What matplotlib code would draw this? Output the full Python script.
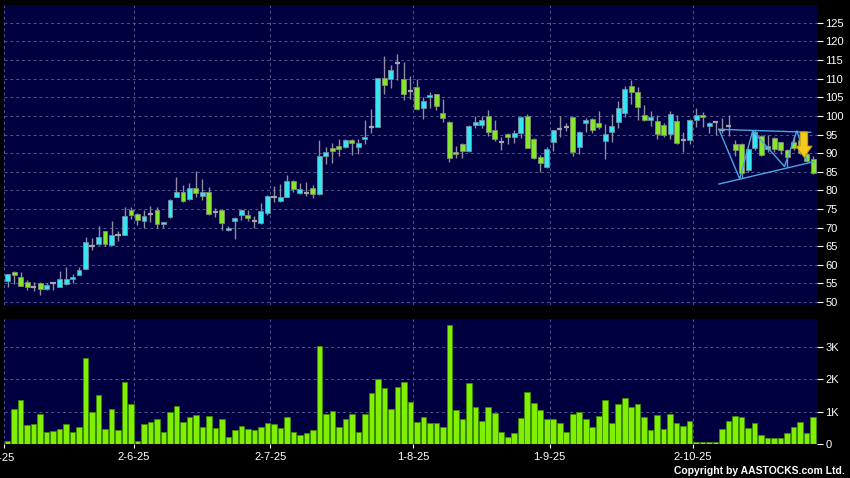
import numpy as np
import matplotlib
matplotlib.use('Agg')
import matplotlib.pyplot as plt
from matplotlib.patches import FancyArrow

plt.rcParams['font.family'] = ['Liberation Sans', 'DejaVu Sans']

# daily candles, 2-5-25 .. end Oct 25 (125 sessions)
opens = [55.7, 58.2, 56.6, 55.3, 54.0, 55.2, 53.5, 55.2, 54.1, 54.9,
         56.1, 57.3, 58.9, 65.0, 65.6, 69.0, 65.4, 68.1, 68.1, 74.6,
         73.6, 71.9, 73.7, 74.7, 70.9, 72.8, 78.3, 79.5, 77.6, 80.5,
         78.6, 79.5, 74.1, 74.6, 69.3, 71.9, 73.5, 73.3, 71.8, 71.1,
         73.8, 78.3, 77.1, 78.3, 82.6, 79.4, 79.2, 80.6, 78.9, 89.1,
         91.3, 91.9, 91.7, 93.5, 91.7, 93.7, 97.0, 97.1, 110.1, 110.0,
         114.3, 110.0, 106.8, 107.7, 102.1, 105.0, 105.8, 100.8, 98.5, 90.2,
         92.4, 90.7, 97.5, 97.5, 100.1, 96.1, 93.1, 95.1, 94.4, 95.3,
         100.1, 93.7, 88.9, 86.2, 92.9, 96.4, 97.0, 99.6, 91.7, 98.0,
         99.2, 98.0, 93.2, 95.6, 98.5, 100.9, 108.1, 106.3, 100.2, 98.9,
         98.7, 97.5, 95.2, 98.7, 93.5, 93.5, 98.9, 100.3, 97.3, 98.3,
         96.3, 97.3, 92.5, 92.5, 85.4, 91.3, 94.6, 91.1, 94.1, 92.9,
         90.8, 92.9, 93.5, 89.8, 88.5]
highs = [57.6, 58.4, 58.0, 55.9, 55.5, 55.4, 55.0, 55.5, 58.3, 59.3,
         57.5, 59.3, 67.6, 67.1, 70.4, 69.2, 71.8, 69.1, 75.4, 75.4,
         73.8, 74.6, 75.8, 75.6, 71.6, 77.7, 83.5, 81.5, 82.1, 85.2,
         83.0, 81.0, 75.2, 74.8, 70.3, 72.9, 75.1, 74.8, 73.0, 76.5,
         78.8, 81.2, 81.6, 84.1, 82.8, 82.1, 82.3, 81.5, 93.4, 91.7,
         92.7, 93.8, 93.7, 93.7, 93.7, 98.9, 101.8, 110.3, 116.1, 113.8,
         116.7, 114.6, 110.8, 110.0, 105.0, 106.4, 106.0, 104.6, 98.7, 91.8,
         92.6, 97.6, 100.1, 100.1, 101.6, 98.9, 94.4, 95.4, 96.2, 100.0,
         100.4, 94.1, 89.5, 91.7, 96.3, 100.0, 98.2, 99.8, 96.0, 99.4,
         99.4, 101.4, 97.8, 100.4, 103.9, 108.1, 109.7, 107.9, 102.9, 101.2,
         100.3, 98.0, 101.2, 100.3, 95.8, 99.1, 102.1, 101.0, 98.5, 98.5,
         99.5, 100.3, 93.5, 92.7, 91.3, 96.3, 94.8, 95.0, 94.3, 93.1,
         91.0, 94.5, 95.8, 90.3, 89.3]
lows = [54.1, 54.8, 54.2, 53.2, 53.0, 51.9, 53.3, 53.2, 54.0, 54.7,
        55.0, 57.2, 58.8, 63.9, 65.4, 65.1, 65.2, 66.5, 68.0, 72.2,
        70.7, 69.8, 71.6, 69.8, 69.8, 72.6, 78.1, 76.9, 77.4, 78.3,
        77.4, 73.4, 72.8, 69.4, 69.0, 67.0, 72.0, 71.8, 70.0, 70.9,
        73.4, 77.0, 76.9, 78.1, 79.6, 79.0, 78.5, 78.0, 78.7, 87.0,
        87.3, 89.3, 91.5, 89.6, 89.8, 92.5, 95.5, 96.9, 105.8, 107.4,
        109.7, 104.2, 104.6, 101.6, 99.1, 102.1, 101.6, 98.5, 87.5, 88.6,
        88.6, 90.4, 96.7, 96.8, 94.6, 93.3, 90.9, 92.5, 92.8, 94.0,
        91.3, 88.3, 85.0, 86.0, 90.7, 94.4, 96.0, 89.1, 89.9, 95.7,
        95.5, 96.6, 88.4, 92.9, 96.7, 99.6, 103.2, 98.9, 98.7, 97.3,
        93.7, 94.4, 93.7, 92.5, 90.4, 92.5, 97.1, 97.1, 95.5, 94.9,
        95.5, 94.7, 89.1, 83.2, 84.8, 90.8, 89.1, 90.4, 90.4, 89.9,
        86.4, 90.8, 89.8, 87.6, 84.4]
closes = [57.4, 57.3, 54.4, 54.0, 54.0, 53.5, 54.5, 55.2, 56.3, 56.3,
          56.6, 58.6, 66.0, 65.0, 67.6, 65.6, 67.9, 68.1, 73.0, 73.5,
          72.0, 73.0, 73.7, 70.9, 71.4, 77.4, 79.5, 77.1, 80.5, 79.2,
          79.5, 73.6, 74.1, 71.1, 70.0, 72.6, 74.7, 72.7, 71.8, 74.4,
          78.6, 78.3, 78.3, 82.6, 80.3, 80.3, 79.2, 78.9, 89.2, 90.3,
          90.7, 91.0, 93.5, 92.6, 92.6, 94.4, 97.0, 110.1, 108.2, 112.4,
          114.3, 105.9, 106.8, 101.8, 103.9, 105.5, 102.7, 99.4, 88.6, 89.8,
          90.6, 97.4, 98.3, 98.8, 95.8, 93.7, 93.1, 94.4, 95.3, 99.6,
          91.5, 88.6, 87.3, 91.2, 96.1, 96.4, 97.0, 90.2, 95.8, 98.8,
          96.2, 97.1, 95.2, 97.4, 102.1, 107.2, 106.3, 102.3, 98.9, 99.8,
          95.2, 94.9, 100.5, 92.8, 93.5, 98.9, 100.3, 99.8, 98.2, 98.3,
          96.3, 97.3, 90.9, 84.6, 91.1, 95.6, 89.6, 91.9, 91.1, 90.8,
          89.0, 91.3, 90.0, 88.0, 84.6]
# volume in thousands
volume_k = [0.09, 1.07, 1.37, 0.58, 0.61, 0.93, 0.36, 0.39, 0.46, 0.61,
            0.37, 0.54, 2.65, 1.00, 1.51, 0.47, 1.09, 0.44, 1.91, 1.22,
            0.08, 0.62, 0.69, 0.78, 0.38, 0.99, 1.17, 0.69, 0.83, 0.91,
            0.51, 0.87, 0.49, 0.76, 0.23, 0.42, 0.57, 0.45, 0.42, 0.52,
            0.66, 0.62, 0.50, 0.83, 0.36, 0.28, 0.33, 0.44, 3.03, 0.92,
            1.03, 0.52, 0.76, 0.93, 0.36, 0.93, 1.59, 2.02, 1.74, 1.09,
            1.76, 1.91, 1.29, 0.69, 0.84, 0.64, 0.64, 0.54, 3.67, 1.06,
            0.76, 1.89, 1.14, 0.70, 1.14, 0.97, 0.36, 0.22, 0.35, 0.79,
            1.60, 1.26, 1.06, 0.78, 0.78, 0.65, 0.36, 0.94, 1.00, 0.76,
            0.53, 0.85, 1.35, 0.66, 1.22, 1.43, 1.14, 1.23, 0.82, 0.44,
            0.91, 0.45, 0.94, 0.64, 0.55, 0.72, 0.07, 0.05, 0.05, 0.05,
            0.47, 0.72, 0.86, 0.83, 0.49, 0.64, 0.28, 0.20, 0.20, 0.20,
            0.34, 0.51, 0.67, 0.33, 0.82]

date_labels = ['2-5-25', '2-6-25', '2-7-25', '1-8-25', '1-9-25', '2-10-25']
date_index = [-1, 19, 40, 62, 83, 105]

# hand drawn triangle / zigzag on the right (index, price)
tri_top_x, tri_top_y = [109.5, 123.6], [96.4, 95.6]
tri_bot_x, tri_bot_y = [109.5, 124.1], [81.7, 87.7]
zig_x = [109.5, 112.7, 114.7, 119.6, 121.5, 123.0]
zig_y = [96.4, 83.1, 96.0, 86.4, 96.0, 88.2]
arrow_x, arrow_top, arrow_tip = 122.6, 95.7, 88.9

navy = '#000040'
grid_col = '#4b5a8e'
cyan = '#36e4f2'
green = '#86e62a'

o = np.array(opens); h = np.array(highs)
l = np.array(lows); c = np.array(closes)
x = np.arange(len(c))
up = c > o
dn = c < o
flat = c == o

fig = plt.figure(figsize=(8.5, 4.78), dpi=100, facecolor='black')
ax = fig.add_axes([4/850, 1-305/478, 813/850, 300/478], facecolor=navy)
axv = fig.add_axes([4/850, 1-444/478, 813/850, 125/478], facecolor=navy, sharex=ax)

# candles
ax.vlines(x, l, h, color='#8e8e9e', lw=1, zorder=2)
ax.bar(x[up], (c - o)[up], bottom=o[up], width=0.76, color=cyan,
       edgecolor='#6f8f9f', lw=0.6, zorder=3)
ax.bar(x[dn], (o - c)[dn], bottom=c[dn], width=0.76, color=green,
       edgecolor='#7f8f6f', lw=0.6, zorder=3)
ax.hlines(o[flat], x[flat] - 0.4, x[flat] + 0.4, color='#a4a4ac', lw=1.6, zorder=3)

# triangle drawing
line_col = '#4aa6e6'
ax.plot(tri_top_x, tri_top_y, color=line_col, lw=1, zorder=4)
ax.plot(tri_bot_x, tri_bot_y, color=line_col, lw=1, zorder=4)
ax.plot(zig_x, zig_y, color=line_col, lw=1, zorder=4)
ax.add_patch(FancyArrow(arrow_x, arrow_top, 0, arrow_tip - arrow_top, width=1.15,
                        head_width=2.5, head_length=3.0, length_includes_head=True,
                        color='#f4c81c', ec='#c89a10', lw=0.6, zorder=5))

# volume
axv.bar(x, volume_k, width=0.86, color='#80f000', edgecolor='#3c8a00', lw=0.6, zorder=3)

ax.set_xlim(-0.55, 124.6)
ax.set_ylim(49.2, 129.8)
axv.set_ylim(0, 3.86)

tick_pos = [d + 0.45 for d in date_index]
ax.set_xticks(tick_pos)
axv.set_xticklabels([''] + date_labels[1:])
ax.set_yticks(range(50, 130, 5))
axv.set_yticks([0, 1, 2, 3])
axv.set_yticklabels(['0', '1K', '2K', '3K'])

for a in (ax, axv):
    for s in a.spines.values():
        s.set_visible(False)
    a.yaxis.tick_right()
    a.grid(True, color=grid_col, ls=(0, (3, 3)), lw=0.7, zorder=0)
    a.set_axisbelow(True)
    a.tick_params(axis='y', colors='white', labelsize=8, length=4, width=0.8, pad=2)
ax.tick_params(axis='x', bottom=False, labelbottom=False)
axv.tick_params(axis='x', colors='white', labelsize=8, length=3, width=0.8, pad=3)

# first date label falls off the left edge, as in the original
fig.text(-1.5/850, 1-458/478, date_labels[0], color='white', fontsize=8,
         ha='center', va='center')
fig.text(845/850, 1-471/478, 'Copyright by AASTOCKS.com Ltd.', color='white',
         fontsize=7.5, fontweight='bold', ha='right', va='center')

fig.savefig('out.png', dpi=100, facecolor='black')
